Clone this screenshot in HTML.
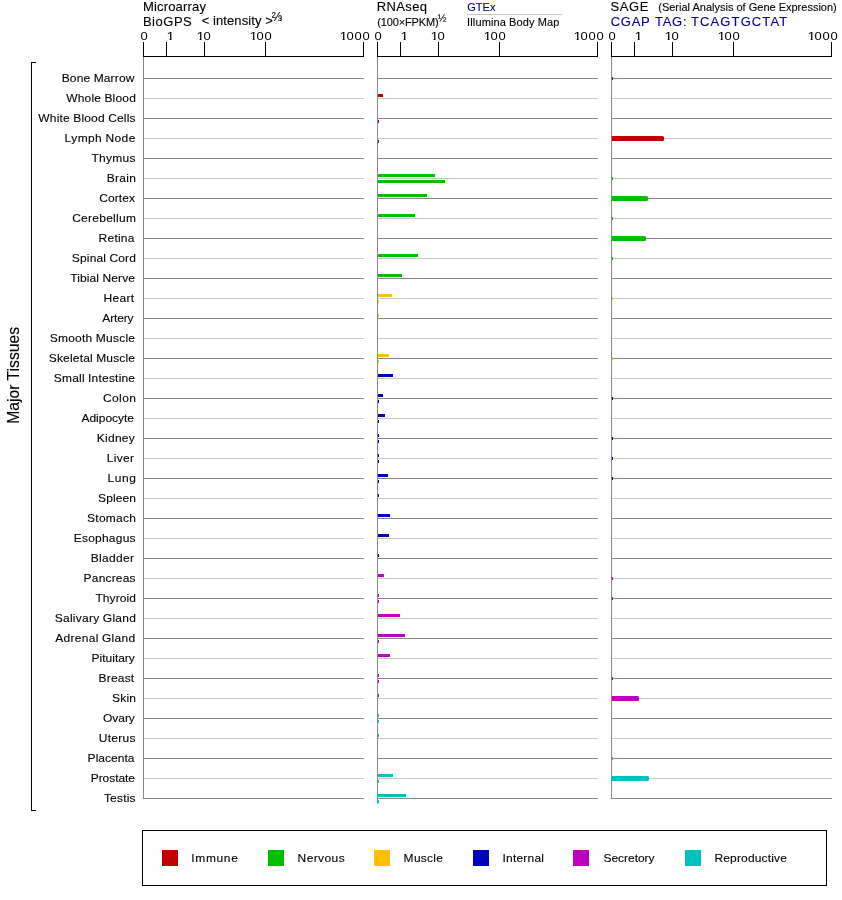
<!DOCTYPE html>
<html><head><meta charset="utf-8"><title>Expression</title>
<style>
html,body{margin:0;padding:0;background:#fff}
body{width:842px;height:900px;position:relative;overflow:hidden;font-family:"Liberation Sans",sans-serif;color:#000}
.t{position:absolute;left:0;top:0;white-space:nowrap;line-height:1;transform-origin:0 0;display:block;-webkit-text-stroke:0.12px}
.b,.l{position:absolute}
.a{font-size:13px;letter-spacing:0.77px;-webkit-text-stroke:0}
.o{display:inline-block;letter-spacing:-0.14px;transform:scaleX(1.1);transform-origin:0 0;clip-path:polygon(0 0,100% 0,100% 9.9px,4.8px 9.9px,4.8px 100%,2.9px 100%,2.9px 9.9px,0 9.9px)}
#w{position:absolute;left:0;top:0;width:842px;height:900px;will-change:transform}
</style></head><body><div id="w">
<div class="b" style="left:144px;top:78px;width:220px;height:1px;background:#888888"></div>
<div class="b" style="left:144px;top:98px;width:220px;height:1px;background:#c8c8c8"></div>
<div class="b" style="left:144px;top:118px;width:220px;height:1px;background:#888888"></div>
<div class="b" style="left:144px;top:138px;width:220px;height:1px;background:#c8c8c8"></div>
<div class="b" style="left:144px;top:158px;width:220px;height:1px;background:#888888"></div>
<div class="b" style="left:144px;top:178px;width:220px;height:1px;background:#c8c8c8"></div>
<div class="b" style="left:144px;top:198px;width:220px;height:1px;background:#888888"></div>
<div class="b" style="left:144px;top:218px;width:220px;height:1px;background:#c8c8c8"></div>
<div class="b" style="left:144px;top:238px;width:220px;height:1px;background:#888888"></div>
<div class="b" style="left:144px;top:258px;width:220px;height:1px;background:#c8c8c8"></div>
<div class="b" style="left:144px;top:278px;width:220px;height:1px;background:#888888"></div>
<div class="b" style="left:144px;top:298px;width:220px;height:1px;background:#c8c8c8"></div>
<div class="b" style="left:144px;top:318px;width:220px;height:1px;background:#888888"></div>
<div class="b" style="left:144px;top:338px;width:220px;height:1px;background:#c8c8c8"></div>
<div class="b" style="left:144px;top:358px;width:220px;height:1px;background:#888888"></div>
<div class="b" style="left:144px;top:378px;width:220px;height:1px;background:#c8c8c8"></div>
<div class="b" style="left:144px;top:398px;width:220px;height:1px;background:#888888"></div>
<div class="b" style="left:144px;top:418px;width:220px;height:1px;background:#c8c8c8"></div>
<div class="b" style="left:144px;top:438px;width:220px;height:1px;background:#888888"></div>
<div class="b" style="left:144px;top:458px;width:220px;height:1px;background:#c8c8c8"></div>
<div class="b" style="left:144px;top:478px;width:220px;height:1px;background:#888888"></div>
<div class="b" style="left:144px;top:498px;width:220px;height:1px;background:#c8c8c8"></div>
<div class="b" style="left:144px;top:518px;width:220px;height:1px;background:#888888"></div>
<div class="b" style="left:144px;top:538px;width:220px;height:1px;background:#c8c8c8"></div>
<div class="b" style="left:144px;top:558px;width:220px;height:1px;background:#888888"></div>
<div class="b" style="left:144px;top:578px;width:220px;height:1px;background:#c8c8c8"></div>
<div class="b" style="left:144px;top:598px;width:220px;height:1px;background:#888888"></div>
<div class="b" style="left:144px;top:618px;width:220px;height:1px;background:#c8c8c8"></div>
<div class="b" style="left:144px;top:638px;width:220px;height:1px;background:#888888"></div>
<div class="b" style="left:144px;top:658px;width:220px;height:1px;background:#c8c8c8"></div>
<div class="b" style="left:144px;top:678px;width:220px;height:1px;background:#888888"></div>
<div class="b" style="left:144px;top:698px;width:220px;height:1px;background:#c8c8c8"></div>
<div class="b" style="left:144px;top:718px;width:220px;height:1px;background:#888888"></div>
<div class="b" style="left:144px;top:738px;width:220px;height:1px;background:#c8c8c8"></div>
<div class="b" style="left:144px;top:758px;width:220px;height:1px;background:#888888"></div>
<div class="b" style="left:144px;top:778px;width:220px;height:1px;background:#c8c8c8"></div>
<div class="b" style="left:144px;top:798px;width:220px;height:1px;background:#888888"></div>
<div class="b" style="left:378px;top:78px;width:220px;height:1px;background:#888888"></div>
<div class="b" style="left:378px;top:98px;width:220px;height:1px;background:#c8c8c8"></div>
<div class="b" style="left:378px;top:118px;width:220px;height:1px;background:#888888"></div>
<div class="b" style="left:378px;top:138px;width:220px;height:1px;background:#c8c8c8"></div>
<div class="b" style="left:378px;top:158px;width:220px;height:1px;background:#888888"></div>
<div class="b" style="left:378px;top:178px;width:220px;height:1px;background:#c8c8c8"></div>
<div class="b" style="left:378px;top:198px;width:220px;height:1px;background:#888888"></div>
<div class="b" style="left:378px;top:218px;width:220px;height:1px;background:#c8c8c8"></div>
<div class="b" style="left:378px;top:238px;width:220px;height:1px;background:#888888"></div>
<div class="b" style="left:378px;top:258px;width:220px;height:1px;background:#c8c8c8"></div>
<div class="b" style="left:378px;top:278px;width:220px;height:1px;background:#888888"></div>
<div class="b" style="left:378px;top:298px;width:220px;height:1px;background:#c8c8c8"></div>
<div class="b" style="left:378px;top:318px;width:220px;height:1px;background:#888888"></div>
<div class="b" style="left:378px;top:338px;width:220px;height:1px;background:#c8c8c8"></div>
<div class="b" style="left:378px;top:358px;width:220px;height:1px;background:#888888"></div>
<div class="b" style="left:378px;top:378px;width:220px;height:1px;background:#c8c8c8"></div>
<div class="b" style="left:378px;top:398px;width:220px;height:1px;background:#888888"></div>
<div class="b" style="left:378px;top:418px;width:220px;height:1px;background:#c8c8c8"></div>
<div class="b" style="left:378px;top:438px;width:220px;height:1px;background:#888888"></div>
<div class="b" style="left:378px;top:458px;width:220px;height:1px;background:#c8c8c8"></div>
<div class="b" style="left:378px;top:478px;width:220px;height:1px;background:#888888"></div>
<div class="b" style="left:378px;top:498px;width:220px;height:1px;background:#c8c8c8"></div>
<div class="b" style="left:378px;top:518px;width:220px;height:1px;background:#888888"></div>
<div class="b" style="left:378px;top:538px;width:220px;height:1px;background:#c8c8c8"></div>
<div class="b" style="left:378px;top:558px;width:220px;height:1px;background:#888888"></div>
<div class="b" style="left:378px;top:578px;width:220px;height:1px;background:#c8c8c8"></div>
<div class="b" style="left:378px;top:598px;width:220px;height:1px;background:#888888"></div>
<div class="b" style="left:378px;top:618px;width:220px;height:1px;background:#c8c8c8"></div>
<div class="b" style="left:378px;top:638px;width:220px;height:1px;background:#888888"></div>
<div class="b" style="left:378px;top:658px;width:220px;height:1px;background:#c8c8c8"></div>
<div class="b" style="left:378px;top:678px;width:220px;height:1px;background:#888888"></div>
<div class="b" style="left:378px;top:698px;width:220px;height:1px;background:#c8c8c8"></div>
<div class="b" style="left:378px;top:718px;width:220px;height:1px;background:#888888"></div>
<div class="b" style="left:378px;top:738px;width:220px;height:1px;background:#c8c8c8"></div>
<div class="b" style="left:378px;top:758px;width:220px;height:1px;background:#888888"></div>
<div class="b" style="left:378px;top:778px;width:220px;height:1px;background:#c8c8c8"></div>
<div class="b" style="left:378px;top:798px;width:220px;height:1px;background:#888888"></div>
<div class="b" style="left:612px;top:78px;width:220px;height:1px;background:#888888"></div>
<div class="b" style="left:612px;top:98px;width:220px;height:1px;background:#c8c8c8"></div>
<div class="b" style="left:612px;top:118px;width:220px;height:1px;background:#888888"></div>
<div class="b" style="left:612px;top:138px;width:220px;height:1px;background:#c8c8c8"></div>
<div class="b" style="left:612px;top:158px;width:220px;height:1px;background:#888888"></div>
<div class="b" style="left:612px;top:178px;width:220px;height:1px;background:#c8c8c8"></div>
<div class="b" style="left:612px;top:198px;width:220px;height:1px;background:#888888"></div>
<div class="b" style="left:612px;top:218px;width:220px;height:1px;background:#c8c8c8"></div>
<div class="b" style="left:612px;top:238px;width:220px;height:1px;background:#888888"></div>
<div class="b" style="left:612px;top:258px;width:220px;height:1px;background:#c8c8c8"></div>
<div class="b" style="left:612px;top:278px;width:220px;height:1px;background:#888888"></div>
<div class="b" style="left:612px;top:298px;width:220px;height:1px;background:#c8c8c8"></div>
<div class="b" style="left:612px;top:318px;width:220px;height:1px;background:#888888"></div>
<div class="b" style="left:612px;top:338px;width:220px;height:1px;background:#c8c8c8"></div>
<div class="b" style="left:612px;top:358px;width:220px;height:1px;background:#888888"></div>
<div class="b" style="left:612px;top:378px;width:220px;height:1px;background:#c8c8c8"></div>
<div class="b" style="left:612px;top:398px;width:220px;height:1px;background:#888888"></div>
<div class="b" style="left:612px;top:418px;width:220px;height:1px;background:#c8c8c8"></div>
<div class="b" style="left:612px;top:438px;width:220px;height:1px;background:#888888"></div>
<div class="b" style="left:612px;top:458px;width:220px;height:1px;background:#c8c8c8"></div>
<div class="b" style="left:612px;top:478px;width:220px;height:1px;background:#888888"></div>
<div class="b" style="left:612px;top:498px;width:220px;height:1px;background:#c8c8c8"></div>
<div class="b" style="left:612px;top:518px;width:220px;height:1px;background:#888888"></div>
<div class="b" style="left:612px;top:538px;width:220px;height:1px;background:#c8c8c8"></div>
<div class="b" style="left:612px;top:558px;width:220px;height:1px;background:#888888"></div>
<div class="b" style="left:612px;top:578px;width:220px;height:1px;background:#c8c8c8"></div>
<div class="b" style="left:612px;top:598px;width:220px;height:1px;background:#888888"></div>
<div class="b" style="left:612px;top:618px;width:220px;height:1px;background:#c8c8c8"></div>
<div class="b" style="left:612px;top:638px;width:220px;height:1px;background:#888888"></div>
<div class="b" style="left:612px;top:658px;width:220px;height:1px;background:#c8c8c8"></div>
<div class="b" style="left:612px;top:678px;width:220px;height:1px;background:#888888"></div>
<div class="b" style="left:612px;top:698px;width:220px;height:1px;background:#c8c8c8"></div>
<div class="b" style="left:612px;top:718px;width:220px;height:1px;background:#888888"></div>
<div class="b" style="left:612px;top:738px;width:220px;height:1px;background:#c8c8c8"></div>
<div class="b" style="left:612px;top:758px;width:220px;height:1px;background:#888888"></div>
<div class="b" style="left:612px;top:778px;width:220px;height:1px;background:#c8c8c8"></div>
<div class="b" style="left:612px;top:798px;width:220px;height:1px;background:#888888"></div>
<div class="b" style="left:612px;top:77px;width:1px;height:3px;background:#c00000"></div>
<div class="b" style="left:378px;top:94px;width:5px;height:3px;background:#c00000"></div>
<div class="b" style="left:378px;top:120px;width:1px;height:3px;background:#c00000"></div>
<div class="b" style="left:378px;top:140px;width:1px;height:3px;background:#c00000"></div>
<div class="b" style="left:612px;top:136px;width:52px;height:5px;background:#c00000;border-radius:0 1.5px 1.5px 0"></div>
<div class="b" style="left:378px;top:174px;width:57px;height:3px;background:#00c000"></div>
<div class="b" style="left:378px;top:180px;width:67px;height:3px;background:#00c000"></div>
<div class="b" style="left:612px;top:177px;width:1px;height:3px;background:#00c000"></div>
<div class="b" style="left:378px;top:194px;width:49px;height:3px;background:#00c000"></div>
<div class="b" style="left:612px;top:196px;width:36px;height:5px;background:#00c000;border-radius:0 1.5px 1.5px 0"></div>
<div class="b" style="left:378px;top:214px;width:37px;height:3px;background:#00c000"></div>
<div class="b" style="left:612px;top:217px;width:1px;height:3px;background:#00c000"></div>
<div class="b" style="left:612px;top:236px;width:34px;height:5px;background:#00c000;border-radius:0 1.5px 1.5px 0"></div>
<div class="b" style="left:378px;top:254px;width:40px;height:3px;background:#00c000"></div>
<div class="b" style="left:612px;top:257px;width:1px;height:3px;background:#00c000"></div>
<div class="b" style="left:378px;top:274px;width:24px;height:3px;background:#00c000"></div>
<div class="b" style="left:378px;top:294px;width:14px;height:3px;background:#ffc000"></div>
<div class="b" style="left:378px;top:300px;width:1px;height:3px;background:#ffc000"></div>
<div class="b" style="left:612px;top:297px;width:1px;height:3px;background:#ffc000"></div>
<div class="b" style="left:378px;top:314px;width:1px;height:3px;background:#ffc000"></div>
<div class="b" style="left:378px;top:354px;width:11px;height:3px;background:#ffc000"></div>
<div class="b" style="left:378px;top:360px;width:1px;height:3px;background:#ffc000"></div>
<div class="b" style="left:612px;top:357px;width:1px;height:3px;background:#ffc000"></div>
<div class="b" style="left:378px;top:374px;width:15px;height:3px;background:#0000c0"></div>
<div class="b" style="left:378px;top:394px;width:5px;height:3px;background:#0000c0"></div>
<div class="b" style="left:378px;top:400px;width:1px;height:3px;background:#0000c0"></div>
<div class="b" style="left:612px;top:397px;width:1px;height:3px;background:#0000c0"></div>
<div class="b" style="left:378px;top:414px;width:7px;height:3px;background:#0000c0"></div>
<div class="b" style="left:378px;top:420px;width:1px;height:3px;background:#0000c0"></div>
<div class="b" style="left:378px;top:434px;width:1px;height:3px;background:#0000c0"></div>
<div class="b" style="left:378px;top:440px;width:1px;height:3px;background:#0000c0"></div>
<div class="b" style="left:612px;top:437px;width:1px;height:3px;background:#0000c0"></div>
<div class="b" style="left:378px;top:454px;width:1px;height:3px;background:#0000c0"></div>
<div class="b" style="left:378px;top:460px;width:1px;height:3px;background:#0000c0"></div>
<div class="b" style="left:612px;top:457px;width:1px;height:3px;background:#0000c0"></div>
<div class="b" style="left:378px;top:474px;width:10px;height:3px;background:#0000c0"></div>
<div class="b" style="left:378px;top:480px;width:1px;height:3px;background:#0000c0"></div>
<div class="b" style="left:612px;top:477px;width:1px;height:3px;background:#0000c0"></div>
<div class="b" style="left:378px;top:494px;width:1px;height:3px;background:#0000c0"></div>
<div class="b" style="left:378px;top:514px;width:12px;height:3px;background:#0000c0"></div>
<div class="b" style="left:378px;top:534px;width:11px;height:3px;background:#0000c0"></div>
<div class="b" style="left:378px;top:554px;width:1px;height:3px;background:#0000c0"></div>
<div class="b" style="left:378px;top:574px;width:6px;height:3px;background:#c000c0"></div>
<div class="b" style="left:612px;top:577px;width:1px;height:3px;background:#c000c0"></div>
<div class="b" style="left:378px;top:594px;width:1px;height:3px;background:#c000c0"></div>
<div class="b" style="left:378px;top:600px;width:1px;height:3px;background:#c000c0"></div>
<div class="b" style="left:612px;top:597px;width:1px;height:3px;background:#c000c0"></div>
<div class="b" style="left:378px;top:614px;width:22px;height:3px;background:#c000c0"></div>
<div class="b" style="left:378px;top:634px;width:27px;height:3px;background:#c000c0"></div>
<div class="b" style="left:378px;top:640px;width:1px;height:3px;background:#c000c0"></div>
<div class="b" style="left:378px;top:654px;width:12px;height:3px;background:#c000c0"></div>
<div class="b" style="left:378px;top:674px;width:1px;height:3px;background:#c000c0"></div>
<div class="b" style="left:378px;top:680px;width:1px;height:3px;background:#c000c0"></div>
<div class="b" style="left:612px;top:677px;width:1px;height:3px;background:#c000c0"></div>
<div class="b" style="left:378px;top:694px;width:1px;height:3px;background:#c000c0"></div>
<div class="b" style="left:612px;top:696px;width:27px;height:5px;background:#c000c0;border-radius:0 1.5px 1.5px 0"></div>
<div class="b" style="left:378px;top:714px;width:1px;height:3px;background:#00c0c0"></div>
<div class="b" style="left:378px;top:720px;width:1px;height:3px;background:#00c0c0"></div>
<div class="b" style="left:378px;top:734px;width:1px;height:3px;background:#00c0c0"></div>
<div class="b" style="left:612px;top:757px;width:1px;height:3px;background:#00c0c0"></div>
<div class="b" style="left:378px;top:774px;width:15px;height:3px;background:#00c0c0"></div>
<div class="b" style="left:378px;top:780px;width:1px;height:3px;background:#00c0c0"></div>
<div class="b" style="left:612px;top:776px;width:37px;height:5px;background:#00c0c0;border-radius:0 1.5px 1.5px 0"></div>
<div class="b" style="left:378px;top:794px;width:28px;height:3px;background:#00c0c0"></div>
<div class="b" style="left:377px;top:799px;width:1px;height:5px;background:#00c0c0"></div>
<div class="b" style="left:378px;top:800px;width:1px;height:3px;background:#00c0c0"></div>
<div class="b" style="left:143px;top:57px;width:1px;height:742px;background:#888888"></div>
<div class="b" style="left:143px;top:56px;width:221px;height:1px;background:#000"></div>
<div class="b" style="left:143px;top:42px;width:1px;height:14px;background:#000"></div>
<div class="b" style="left:166px;top:42px;width:1px;height:14px;background:#000"></div>
<div class="b" style="left:204px;top:42px;width:1px;height:14px;background:#000"></div>
<div class="b" style="left:265px;top:42px;width:1px;height:14px;background:#000"></div>
<div class="b" style="left:363px;top:42px;width:1px;height:14px;background:#000"></div>
<div class="b" style="left:377px;top:57px;width:1px;height:742px;background:#888888"></div>
<div class="b" style="left:377px;top:56px;width:221px;height:1px;background:#000"></div>
<div class="b" style="left:377px;top:42px;width:1px;height:14px;background:#000"></div>
<div class="b" style="left:400px;top:42px;width:1px;height:14px;background:#000"></div>
<div class="b" style="left:438px;top:42px;width:1px;height:14px;background:#000"></div>
<div class="b" style="left:499px;top:42px;width:1px;height:14px;background:#000"></div>
<div class="b" style="left:597px;top:42px;width:1px;height:14px;background:#000"></div>
<div class="b" style="left:611px;top:57px;width:1px;height:742px;background:#888888"></div>
<div class="b" style="left:611px;top:56px;width:221px;height:1px;background:#000"></div>
<div class="b" style="left:611px;top:42px;width:1px;height:14px;background:#000"></div>
<div class="b" style="left:634px;top:42px;width:1px;height:14px;background:#000"></div>
<div class="b" style="left:672px;top:42px;width:1px;height:14px;background:#000"></div>
<div class="b" style="left:733px;top:42px;width:1px;height:14px;background:#000"></div>
<div class="b" style="left:831px;top:42px;width:1px;height:14px;background:#000"></div>
<div class="b" style="left:31px;top:62px;width:1px;height:749px;background:#000"></div>
<div class="b" style="left:31px;top:62px;width:5px;height:1px;background:#000"></div>
<div class="b" style="left:31px;top:810px;width:5px;height:1px;background:#000"></div>
<div class="b" style="left:467px;top:14px;width:95px;height:1px;background:#c8c8c8"></div>
<div class="b" style="left:142px;top:830px;width:683px;height:54px;border:1px solid #000"></div>
<div class="b" style="left:162px;top:850px;width:16px;height:16px;background:#c00000"></div>
<div class="b" style="left:268px;top:850px;width:16px;height:16px;background:#00c000"></div>
<div class="b" style="left:374px;top:850px;width:16px;height:16px;background:#ffc000"></div>
<div class="b" style="left:473px;top:850px;width:16px;height:16px;background:#0000c0"></div>
<div class="b" style="left:573px;top:850px;width:16px;height:16px;background:#c000c0"></div>
<div class="b" style="left:685px;top:850px;width:16px;height:16px;background:#00c0c0"></div>
<div class="t" style="font-size:13px;letter-spacing:0.177px;transform:translate(142.93px,0.00px)">Microarray</div>
<div class="t" style="font-size:13px;letter-spacing:0.524px;transform:translate(142.93px,15.00px)">BioGPS</div>
<div class="t" style="font-size:13px;letter-spacing:0.108px;word-spacing:-0.108px;transform:translate(201.66px,14.00px)">< intensity ></div>
<div class="t" style="font-size:13px;transform:translate(271.69px,9.90px) scale(0.9539,1.0000)">⅔</div>
<div class="t" style="font-size:13px;letter-spacing:0.378px;transform:translate(376.73px,0.00px)">RNAseq</div>
<div class="t" style="font-size:11px;letter-spacing:-0.144px;transform:translate(377.22px,17.00px)">(100×FPKM)</div>
<div class="t" style="font-size:11px;transform:translate(437.71px,13.00px) scale(0.9560,1.0000)">½</div>
<div class="t" style="font-size:11px;letter-spacing:0.020px;transform:translate(467.25px,2.00px);color:#00008c">GTEx</div>
<div class="t" style="font-size:11px;letter-spacing:0.135px;word-spacing:-0.135px;transform:translate(467.08px,17.00px)">Illumina Body Map</div>
<div class="t" style="font-size:13px;letter-spacing:0.591px;transform:translate(610.41px,0.00px)">SAGE</div>
<div class="t" style="font-size:11px;transform:translate(658.22px,2.00px)">(Serial Analysis of Gene Expression)</div>
<div class="t" style="font-size:13px;letter-spacing:0.701px;transform:translate(610.74px,15.00px);color:#00008c">CGAP</div>
<div class="t" style="font-size:13px;letter-spacing:0.769px;transform:translate(654.91px,15.00px);color:#00008c">TAG:</div>
<div class="t" style="font-size:13px;letter-spacing:1.113px;transform:translate(691.01px,15.00px);color:#00008c">TCAGTGCTAT</div>
<div class="t a" style="transform:translate(140.49px,30.10px) scaleY(0.9)">0</div>
<div class="t a" style="transform:translate(166.40px,30.10px) scaleY(0.9)"><span class="o">1</span></div>
<div class="t a" style="transform:translate(196.40px,30.10px) scaleY(0.9)"><span class="o">1</span>0</div>
<div class="t a" style="transform:translate(249.40px,30.10px) scaleY(0.9)"><span class="o">1</span>00</div>
<div class="t a" style="transform:translate(339.40px,30.10px) scaleY(0.9)"><span class="o">1</span>000</div>
<div class="t a" style="transform:translate(374.49px,30.10px) scaleY(0.9)">0</div>
<div class="t a" style="transform:translate(400.40px,30.10px) scaleY(0.9)"><span class="o">1</span></div>
<div class="t a" style="transform:translate(430.40px,30.10px) scaleY(0.9)"><span class="o">1</span>0</div>
<div class="t a" style="transform:translate(483.40px,30.10px) scaleY(0.9)"><span class="o">1</span>00</div>
<div class="t a" style="transform:translate(573.40px,30.10px) scaleY(0.9)"><span class="o">1</span>000</div>
<div class="t a" style="transform:translate(608.49px,30.10px) scaleY(0.9)">0</div>
<div class="t a" style="transform:translate(634.40px,30.10px) scaleY(0.9)"><span class="o">1</span></div>
<div class="t a" style="transform:translate(664.40px,30.10px) scaleY(0.9)"><span class="o">1</span>0</div>
<div class="t a" style="transform:translate(717.40px,30.10px) scaleY(0.9)"><span class="o">1</span>00</div>
<div class="t a" style="transform:translate(807.40px,30.10px) scaleY(0.9)"><span class="o">1</span>000</div>
<div class="t" style="font-size:12px;letter-spacing:0.144px;word-spacing:-0.144px;transform:translate(61.72px,72.40px) scale(1.0000,0.9600)">Bone Marrow</div>
<div class="t" style="font-size:12px;letter-spacing:0.187px;word-spacing:-0.187px;transform:translate(66.15px,92.40px) scale(1.0000,0.9600)">Whole Blood</div>
<div class="t" style="font-size:12px;letter-spacing:0.177px;word-spacing:-0.177px;transform:translate(38.35px,112.40px) scale(1.0000,0.9600)">White Blood Cells</div>
<div class="t" style="font-size:12px;letter-spacing:0.390px;word-spacing:-0.390px;transform:translate(64.62px,132.40px) scale(1.0000,0.9600)">Lymph Node</div>
<div class="t" style="font-size:12px;letter-spacing:0.286px;transform:translate(91.43px,152.40px) scale(1.0000,0.9600)">Thymus</div>
<div class="t" style="font-size:12px;letter-spacing:0.287px;transform:translate(106.72px,172.40px) scale(1.0000,0.9600)">Brain</div>
<div class="t" style="font-size:12px;letter-spacing:0.079px;transform:translate(99.19px,192.40px) scale(1.0000,0.9600)">Cortex</div>
<div class="t" style="font-size:12px;letter-spacing:0.260px;transform:translate(72.19px,212.40px) scale(1.0000,0.9600)">Cerebellum</div>
<div class="t" style="font-size:12px;letter-spacing:0.219px;transform:translate(98.62px,232.40px) scale(1.0000,0.9600)">Retina</div>
<div class="t" style="font-size:12px;letter-spacing:0.146px;word-spacing:-0.146px;transform:translate(71.86px,252.40px) scale(1.0000,0.9600)">Spinal Cord</div>
<div class="t" style="font-size:12px;letter-spacing:0.113px;word-spacing:-0.113px;transform:translate(70.23px,272.40px) scale(1.0000,0.9600)">Tibial Nerve</div>
<div class="t" style="font-size:12px;letter-spacing:0.307px;transform:translate(103.62px,292.40px) scale(1.0000,0.9600)">Heart</div>
<div class="t" style="font-size:12px;letter-spacing:-0.151px;transform:translate(102.28px,312.40px) scale(1.0000,0.9600)">Artery</div>
<div class="t" style="font-size:12px;letter-spacing:0.244px;word-spacing:-0.244px;transform:translate(49.66px,332.40px) scale(1.0000,0.9600)">Smooth Muscle</div>
<div class="t" style="font-size:12px;letter-spacing:0.173px;word-spacing:-0.173px;transform:translate(48.76px,352.40px) scale(1.0000,0.9600)">Skeletal Muscle</div>
<div class="t" style="font-size:12px;letter-spacing:0.198px;word-spacing:-0.198px;transform:translate(53.76px,372.40px) scale(1.0000,0.9600)">Small Intestine</div>
<div class="t" style="font-size:12px;letter-spacing:0.384px;transform:translate(102.99px,392.40px) scale(1.0000,0.9600)">Colon</div>
<div class="t" style="font-size:12px;letter-spacing:-0.005px;transform:translate(81.38px,412.40px) scale(1.0000,0.9600)">Adipocyte</div>
<div class="t" style="font-size:12px;letter-spacing:0.283px;transform:translate(96.72px,432.40px) scale(1.0000,0.9600)">Kidney</div>
<div class="t" style="font-size:12px;letter-spacing:0.343px;transform:translate(106.72px,452.40px) scale(1.0000,0.9600)">Liver</div>
<div class="t" style="font-size:12px;letter-spacing:0.521px;transform:translate(107.62px,472.40px) scale(1.0000,0.9600)">Lung</div>
<div class="t" style="font-size:12px;letter-spacing:0.092px;transform:translate(98.06px,492.40px) scale(1.0000,0.9600)">Spleen</div>
<div class="t" style="font-size:12px;letter-spacing:0.245px;transform:translate(87.06px,512.40px) scale(1.0000,0.9600)">Stomach</div>
<div class="t" style="font-size:12px;letter-spacing:0.221px;transform:translate(73.72px,532.40px) scale(1.0000,0.9600)">Esophagus</div>
<div class="t" style="font-size:12px;letter-spacing:0.337px;transform:translate(90.72px,552.40px) scale(1.0000,0.9600)">Bladder</div>
<div class="t" style="font-size:12px;letter-spacing:0.175px;transform:translate(83.62px,572.40px) scale(1.0000,0.9600)">Pancreas</div>
<div class="t" style="font-size:12px;letter-spacing:0.072px;transform:translate(95.43px,592.40px) scale(1.0000,0.9600)">Thyroid</div>
<div class="t" style="font-size:12px;letter-spacing:0.257px;word-spacing:-0.257px;transform:translate(54.76px,612.40px) scale(1.0000,0.9600)">Salivary Gland</div>
<div class="t" style="font-size:12px;letter-spacing:0.298px;word-spacing:-0.298px;transform:translate(55.18px,632.40px) scale(1.0000,0.9600)">Adrenal Gland</div>
<div class="t" style="font-size:12px;letter-spacing:-0.017px;transform:translate(91.62px,652.40px) scale(1.0000,0.9600)">Pituitary</div>
<div class="t" style="font-size:12px;letter-spacing:0.178px;transform:translate(98.62px,672.40px) scale(1.0000,0.9600)">Breast</div>
<div class="t" style="font-size:12px;letter-spacing:0.160px;transform:translate(112.06px,692.40px) scale(1.0000,0.9600)">Skin</div>
<div class="t" style="font-size:12px;letter-spacing:-0.053px;transform:translate(103.03px,712.40px) scale(1.0000,0.9600)">Ovary</div>
<div class="t" style="font-size:12px;letter-spacing:0.303px;transform:translate(98.67px,732.40px) scale(1.0000,0.9600)">Uterus</div>
<div class="t" style="font-size:12px;letter-spacing:0.012px;transform:translate(87.62px,752.40px) scale(1.0000,0.9600)">Placenta</div>
<div class="t" style="font-size:12px;letter-spacing:-0.067px;transform:translate(90.72px,772.40px) scale(1.0000,0.9600)">Prostate</div>
<div class="t" style="font-size:12px;letter-spacing:0.186px;transform:translate(103.93px,792.40px) scale(1.0000,0.9600)">Testis</div>
<div class="t" style="font-size:12px;letter-spacing:0.639px;transform:translate(191.29px,852.40px) scale(1.0000,0.9600)">Immune</div>
<div class="t" style="font-size:12px;letter-spacing:0.397px;transform:translate(297.57px,852.40px) scale(1.0000,0.9600)">Nervous</div>
<div class="t" style="font-size:12px;letter-spacing:0.262px;transform:translate(403.62px,852.40px) scale(1.0000,0.9600)">Muscle</div>
<div class="t" style="font-size:12px;letter-spacing:0.184px;transform:translate(502.59px,852.40px) scale(1.0000,0.9600)">Internal</div>
<div class="t" style="font-size:12px;letter-spacing:-0.035px;transform:translate(603.46px,852.40px) scale(1.0000,0.9600)">Secretory</div>
<div class="t" style="font-size:12px;letter-spacing:0.165px;transform:translate(714.42px,852.40px) scale(1.0000,0.9600)">Reproductive</div>
<div class="t" style="font-size:16px;transform:translate(6.20px,423.69px) rotate(-90deg) scaleX(0.9795)">Major Tissues</div>
</div></body></html>
